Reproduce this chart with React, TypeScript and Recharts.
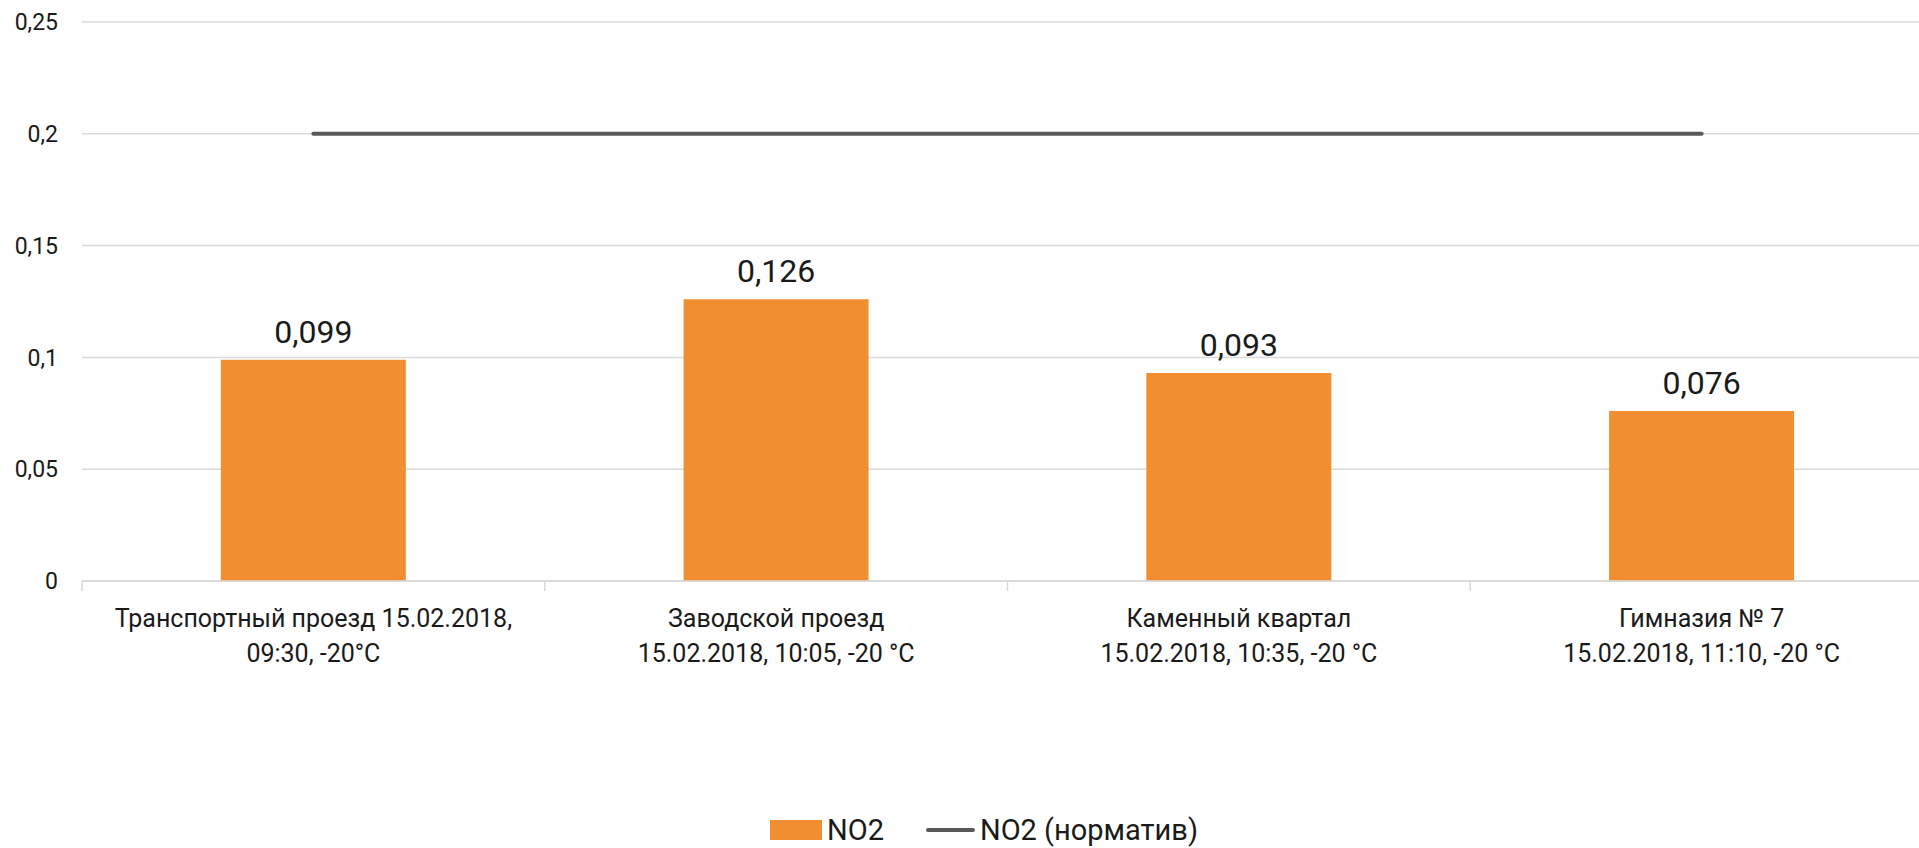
import { ComposedChart, Bar, Line, XAxis, YAxis, CartesianGrid, Legend, LabelList } from 'recharts';

const categories = [
  'Транспортный проезд 15.02.2018,\n09:30, -20°C',
  'Заводской проезд\n15.02.2018, 10:05, -20 °C',
  'Каменный квартал\n15.02.2018, 10:35, -20 °C',
  'Гимназия № 7\n15.02.2018, 11:10, -20 °C',
];
const no2Values = [0.099, 0.126, 0.093, 0.076];
const normValues = [0.2, 0.2, 0.2, 0.2];
const yTicks = [0, 0.05, 0.1, 0.15, 0.2, 0.25];

const data = categories.map((name, i) => ({ name, no2: no2Values[i], norm: normValues[i] }));

const FONT = 'Roboto, sans-serif';
const TEXT = '#1a1a1a';
const GRID = '#D9D9D9';
const ORANGE = '#F28E32';
const GREY = '#595959';

const CHART_W = 1933;
const PLOT_LEFT = 82;
const BAND = (CHART_W - PLOT_LEFT) / categories.length;

const fmt = (v: number) => String(v).replace('.', ',');

function XTick({ x, y, payload }: any) {
  const lines = String(payload.value).split('\n');
  return (
    <g>
      <line x1={x - BAND / 2} x2={x - BAND / 2} y1={y} y2={y + 10} stroke={GRID} strokeWidth={1.5} />
      {lines.map((l, i) => (
        <text key={i} x={x} y={y + 37 + i * 35} textAnchor="middle" dominantBaseline="central"
          fontFamily={FONT} fontSize={25} fill={TEXT}>{l}</text>
      ))}
    </g>
  );
}

function LegendContent() {
  return (
    <div style={{ display: 'flex', alignItems: 'center', fontFamily: FONT, fontSize: 29, color: TEXT }}>
      <div style={{ width: 52, height: 20, background: ORANGE, marginRight: 5 }} />
      <span>NO2</span>
      <div style={{ width: 49, height: 4, background: GREY, borderRadius: 2, marginLeft: 42, marginRight: 5 }} />
      <span>NO2 (норматив)</span>
    </div>
  );
}

export default function App() {
  return (
    <div style={{ position: 'absolute', left: 0, top: 0, width: 1919, height: 848, overflow: 'hidden', background: '#fff' }}>
      <ComposedChart width={CHART_W} height={848} data={data} margin={{ top: 22, right: 0, bottom: 187, left: 0 }} barCategoryGap="30%">
        <CartesianGrid vertical={false} stroke={GRID} strokeWidth={1.5} />
        <XAxis dataKey="name" height={80} interval={0} tickLine={false} tickSize={0} tickMargin={0}
          axisLine={{ stroke: GRID, strokeWidth: 1.5 }} tick={<XTick />} />
        <YAxis width={82} domain={[0, 0.25]} ticks={yTicks} axisLine={false} tickLine={false} tickSize={0} tickMargin={24}
          tickFormatter={fmt} tick={{ fontFamily: FONT, fontSize: 23, fill: TEXT }} />
        <Bar dataKey="no2" name="NO2" fill={ORANGE} isAnimationActive={false}>
          <LabelList dataKey="no2" position="top" offset={17} formatter={(v: any) => fmt(Number(v))}
            style={{ fontFamily: FONT, fontSize: 32, fill: TEXT }} />
        </Bar>
        <Line dataKey="norm" name="NO2 (норматив)" stroke={GREY} strokeWidth={4} dot={false} strokeLinecap="round" isAnimationActive={false} />
        <Legend verticalAlign="middle" align="center" layout="horizontal" content={<LegendContent />}
          wrapperStyle={{ top: 813, left: 770, width: 'auto' }} />
      </ComposedChart>
    </div>
  );
}
